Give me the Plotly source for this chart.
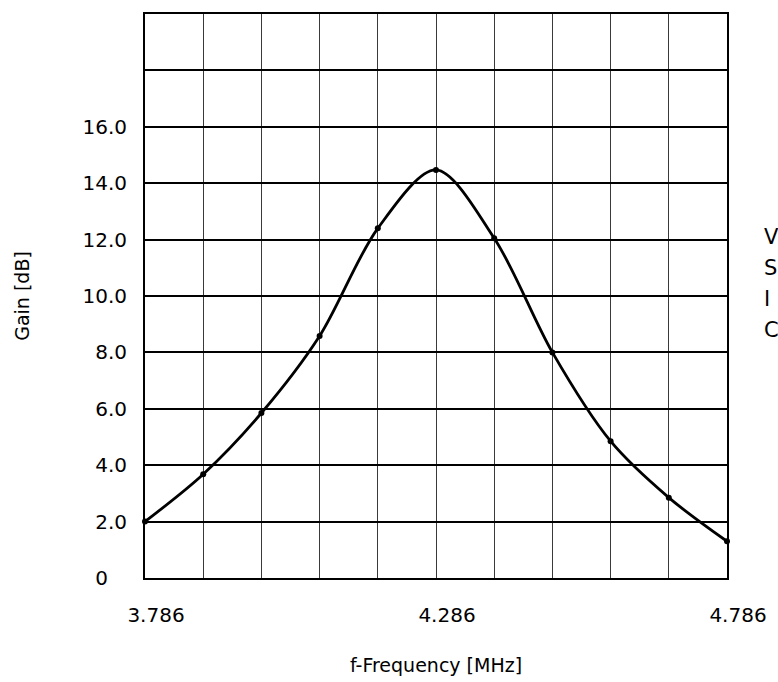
import plotly.graph_objects as go

# Data
freq_mhz = [3.786, 3.886, 3.986, 4.086, 4.186, 4.286, 4.386, 4.486, 4.586, 4.686, 4.786]
gain_db = [2.0, 3.68, 5.85, 8.58, 12.4, 14.47, 12.05, 8.0, 4.85, 2.85, 1.3]

x_tick_vals = [3.786, 3.886, 3.986, 4.086, 4.186, 4.286, 4.386, 4.486, 4.586, 4.686, 4.786]
x_tick_text = ["3.786", "", "", "", "", "4.286", "", "", "", "", "4.786"]
y_tick_vals = [0, 2, 4, 6, 8, 10, 12, 14, 16, 18]
y_tick_text = ["0\u00a0\u00a0\u00a0", "2.0", "4.0", "6.0", "8.0", "10.0", "12.0", "14.0", "16.0", ""]
side_letters = ["V", "S", "I", "C"]

FONT = "DejaVu Sans"

fig = go.Figure()
fig.add_trace(go.Scatter(
    x=freq_mhz, y=gain_db,
    mode="lines+markers",
    line=dict(color="black", width=2.8, shape="spline", smoothing=0.9),
    marker=dict(color="black", size=6),
    cliponaxis=False,
    showlegend=False,
))

# side text (truncated at the right edge in the reference)
side_y = [237, 268, 299, 330]
for letter, py in zip(side_letters, side_y):
    fig.add_annotation(
        text=letter, xref="paper", yref="paper",
        x=(762 - 145) / 582, y=1 - (py - 14) / 564,
        xanchor="left", yanchor="middle", showarrow=False,
        font=dict(family=FONT, size=21, color="black"),
    )

fig.update_layout(
    width=778, height=682,
    margin=dict(l=145, r=51, t=14, b=104),
    paper_bgcolor="white", plot_bgcolor="white",
    font=dict(family=FONT, size=20, color="black"),
    xaxis=dict(
        range=[3.786, 4.786],
        tickvals=x_tick_vals, ticktext=x_tick_text,
        showgrid=True, gridcolor="#3a3a3a", gridwidth=1.2,
        showline=True, linecolor="black", linewidth=2, mirror=True,
        zeroline=False, ticks="",
        ticklabelstandoff=18, ticklabelshift=11,
        title=dict(text="f-Frequency [MHz]", standoff=33,
                   font=dict(family=FONT, size=19)),
        automargin=False,
    ),
    yaxis=dict(
        range=[0, 20],
        tickvals=y_tick_vals, ticktext=y_tick_text,
        showgrid=True, gridcolor="black", gridwidth=2,
        showline=True, linecolor="black", linewidth=2, mirror=True,
        zeroline=False, ticks="",
        ticklabelstandoff=12,
        title=dict(text="Gain [dB]", standoff=48,
                   font=dict(family=FONT, size=19)),
        automargin=False,
    ),
)

fig.write_html("out.html", config={"displayModeBar": False},
               post_script="document.body.style.margin='0';")
